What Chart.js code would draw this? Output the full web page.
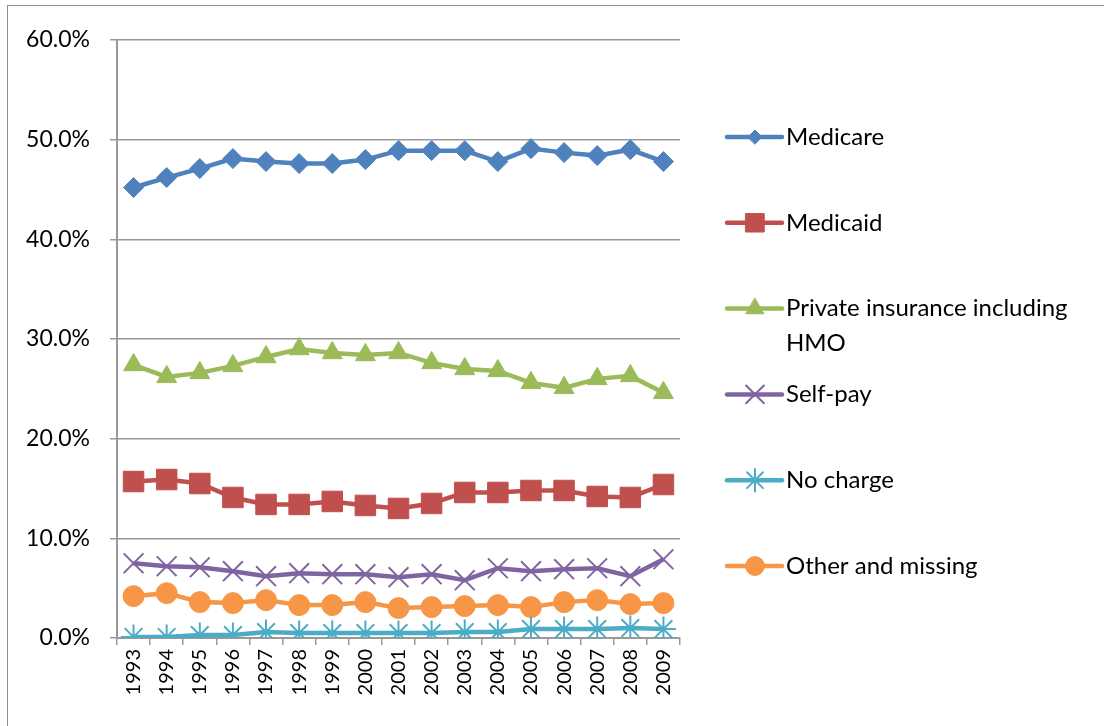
<!DOCTYPE html>
<html>
<head>
<meta charset="utf-8">
<script src="https://cdn.jsdelivr.net/npm/chart.js@4.4.0/dist/chart.umd.min.js"></script>
<style>
  html, body { margin: 0; padding: 0; background: #fff; overflow: hidden; }
  #frame { position: absolute; left: 7px; top: 5px; width: 1120px; height: 740px; border: 1.5px solid #8c8c8c; box-sizing: border-box; }
  #grafico { position: absolute; left: 0; top: 0; }
</style>
</head>
<body>
<div id="frame"></div>
<canvas id="grafico" width="1104" height="726"></canvas>
<script>
const years = ['1993', '1994', '1995', '1996', '1997', '1998', '1999', '2000', '2001',
  '2002', '2003', '2004', '2005', '2006', '2007', '2008', '2009'];

const medicare = [45.2, 46.2, 47.1, 48.1, 47.8, 47.6, 47.6, 48.0, 48.9, 48.9, 48.9, 47.8, 49.1, 48.7, 48.4, 49.0, 47.8];
const medicaid = [15.7, 15.9, 15.5, 14.1, 13.4, 13.4, 13.7, 13.3, 13.0, 13.5, 14.6, 14.6, 14.8, 14.8, 14.2, 14.1, 15.4];
const privateIns = [27.4, 26.2, 26.6, 27.3, 28.2, 29.0, 28.6, 28.4, 28.6, 27.6, 27.0, 26.8, 25.6, 25.1, 26.0, 26.3, 24.6];
const selfPay = [7.5, 7.2, 7.1, 6.7, 6.2, 6.5, 6.4, 6.4, 6.1, 6.4, 5.8, 7.0, 6.7, 6.9, 7.0, 6.2, 7.9];
const noCharge = [0.1, 0.1, 0.3, 0.3, 0.6, 0.5, 0.5, 0.5, 0.5, 0.5, 0.6, 0.6, 0.9, 0.9, 0.9, 1.0, 0.9];
const otherMissing = [4.2, 4.5, 3.6, 3.5, 3.8, 3.3, 3.3, 3.6, 3.0, 3.1, 3.2, 3.3, 3.1, 3.6, 3.8, 3.4, 3.5];

const yTicks = [0, 10, 20, 30, 40, 50, 60];

const fuente = 'Lato, "Open Sans", sans-serif';

function serie(label, data, color, estilo, radio, borde) {
  return {
    label: label,
    data: data,
    borderColor: color,
    backgroundColor: color,
    pointBackgroundColor: color,
    pointBorderColor: color,
    pointStyle: estilo,
    pointRadius: radio,
    pointHoverRadius: radio,
    pointBorderWidth: borde,
    borderWidth: 4.5,
    tension: 0,
    fill: false,
  };
}

// leyenda dibujada a mano a la derecha del grafico
const leyendaDerecha = {
  id: 'leyendaDerecha',
  afterDraw(chart) {
    const ctx = chart.ctx;
    const x0 = chart.chartArea.right + 47;
    let y = 137;
    ctx.save();
    chart.data.datasets.forEach((ds) => {
      ctx.strokeStyle = ds.borderColor;
      ctx.lineWidth = 4.5;
      ctx.lineCap = 'round';
      ctx.beginPath();
      ctx.moveTo(x0, y);
      ctx.lineTo(x0 + 55, y);
      ctx.stroke();
      ctx.fillStyle = ds.backgroundColor;
      ctx.lineWidth = ds.pointBorderWidth;
      const r = ds.pointStyle === 'rectRot' ? 7 : ds.pointRadius * 0.9;
      Chart.helpers.drawPoint(ctx, { pointStyle: ds.pointStyle, radius: r, borderWidth: ds.pointBorderWidth, rotation: 0 }, x0 + 28, y);
      ctx.fillStyle = '#000';
      ctx.font = '24px ' + fuente;
      ctx.textBaseline = 'middle';
      ctx.textAlign = 'left';
      const lineas = Array.isArray(ds.legendText) ? ds.legendText : [ds.label];
      lineas.forEach((t, i) => ctx.fillText(t, x0 + 59, y + i * 35));
      y += 85.8;
    });
    ctx.restore();
  },
};

const datasets = [
  serie('Medicare', medicare, '#4F81BD', 'rectRot', 10, 1),
  serie('Medicaid', medicaid, '#C0504D', 'rect', 14.5, 1),
  serie('Private insurance including HMO', privateIns, '#9BBB59', 'triangle', 11.5, 1),
  serie('Self-pay', selfPay, '#8064A2', 'crossRot', 14, 2),
  serie('No charge', noCharge, '#4BACC6', 'star', 12.5, 2),
  serie('Other and missing', otherMissing, '#F79646', 'circle', 10.5, 1),
];
datasets[2].legendText = ['Private insurance including', 'HMO'];

const lienzo = document.getElementById('grafico');

const lineChart = new Chart(lienzo, {
  type: 'line',
  data: { labels: years, datasets: datasets },
  plugins: [leyendaDerecha],
  options: {
    responsive: false,
    animation: false,
    devicePixelRatio: 1,
    layout: { padding: { left: 0, top: 40, right: 424, bottom: 0 } },
    plugins: { legend: { display: false }, tooltip: { enabled: false } },
    scales: {
      x: {
        offset: true,
        grid: { offset: true, drawOnChartArea: false, drawTicks: true, tickLength: 7, color: '#999', lineWidth: 1.5 },
        border: { color: '#999', width: 2 },
        ticks: {
          color: '#000',
          font: { family: fuente, size: 20 },
          minRotation: 90,
          maxRotation: 90,
          autoSkip: false,
          padding: 4,
        },
        afterFit(scale) { scale.height = 88; },
      },
      y: {
        min: 0,
        max: 60,
        afterBuildTicks(scale) { scale.ticks = yTicks.map((v) => ({ value: v })); },
        grid: { color: '#999', lineWidth: 1.5, tickLength: 7 },
        border: { color: '#999', width: 2 },
        ticks: {
          color: '#000',
          font: { family: fuente, size: 23 },
          padding: 20,
          callback: function (value) {
            return value.toFixed(1) + '%';
          },
        },
        afterFit(scale) { scale.width = 117; },
      },
    },
  },
});
</script>
</body>
</html>
